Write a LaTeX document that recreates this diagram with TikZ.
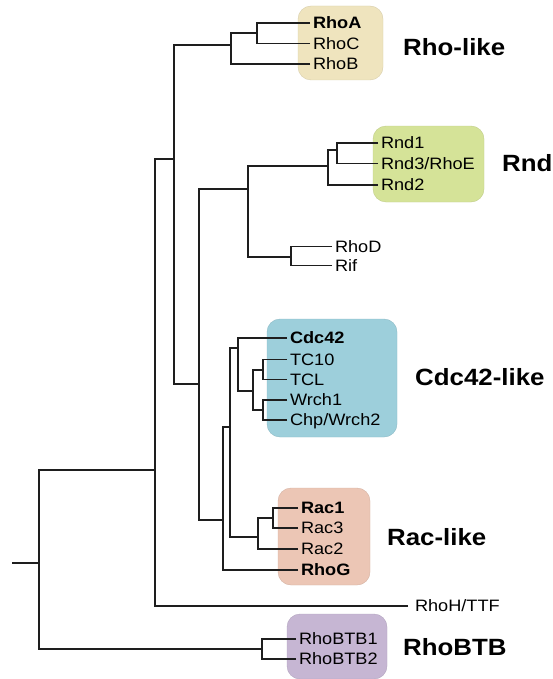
\documentclass[tikz,border=0pt]{standalone}
\usepackage{fontspec}
\setmainfont{Liberation Sans}[FakeStretch=1.1]
\usepackage{tikz}
\usetikzlibrary{positioning}
\definecolor{boxRho}{RGB}{239,228,190}
\definecolor{boxRnd}{RGB}{213,227,152}
\definecolor{boxCdc}{RGB}{157,207,219}
\definecolor{boxRac}{RGB}{236,198,181}
\definecolor{boxBTB}{RGB}{198,182,211}
\definecolor{branch}{RGB}{30,30,30}

\tikzset{
  leaf/.style={anchor=west, inner xsep=3bp, inner ysep=0pt, outer sep=0pt,
    text height=11.8bp, text depth=0pt, font=\fontsize{16.5bp}{20bp}\selectfont},
  grouplbl/.style={anchor=west, inner sep=0pt, text height=16.8bp, text depth=0pt,
    font=\fontsize{23.5bp}{28bp}\selectfont\bfseries},
  grpbox/.style={rounded corners=13bp, draw=#1!90!black, line width=0.4bp, fill=#1},
  branchln/.style={draw=branch, line width=1.7bp},
}

\begin{document}
\begin{tikzpicture}[x=1bp,y=-1bp]
  \useasboundingbox (0,0) rectangle (553,679);
  % coloured group boxes
  \foreach \c/\xa/\ya/\xb/\yb in {boxRho/298/6/383/80, boxRnd/373/126/484/202,
      boxCdc/267/319/397/437, boxRac/278/488/370/585, boxBTB/287/614/387/679} {
    \draw[grpbox=\c] (\xa,\ya) rectangle (\xb,\yb);
  }
  % group names
  \foreach \n/\t/\x/\y in {lblRho/Rho-like/403/47, lblRnd/Rnd/502/163,
      lblCdc/Cdc42-like/415/377, lblRac/Rac-like/387/537, lblBTB/RhoBTB/403/647}
    \node[grouplbl] (\n) at (\x,\y) {\t};
  % leaves: name/text/end of branch x/y
  \foreach \n/\t/\x/\y in {
      rhoA/\textbf{RhoA}/310/23, rhoC/RhoC/310/43.5, rhoB/RhoB/310/64,
      rnd1/Rnd1/378/143, rnd3/{Rnd3/RhoE}/378/163.5, rnd2/Rnd2/378/185,
      rhoD/RhoD/332/246.5, rif/Rif/332/265.5,
      cdc42/\textbf{Cdc42}/287/338, tc10/TC10/287/359.5, tcl/TCL/287/379.5,
      wrch1/Wrch1/287/400, chp/{Chp/Wrch2}/287/420,
      rac1/\textbf{Rac1}/298/508, rac3/Rac3/298/528, rac2/Rac2/298/549,
      rhoG/\textbf{RhoG}/298/570,
      btb1/RhoBTB1/296/639, btb2/RhoBTB2/296/659}
    \node[leaf] (\n) at (\x,\y) {\t};
  \node[leaf, inner xsep=7bp] (rhoH) at (408,606) {RhoH/TTF};
  % inner junctions
  \coordinate (jAC) at (257,33);
  \coordinate (jRho) at (231,45);
  \coordinate (jRndE) at (337,150);
  \coordinate (jRnd) at (328,166);
  \coordinate (jDRif) at (291,257);
  \coordinate (jRndD) at (248,189);
  \coordinate (jTC) at (263,370);
  \coordinate (jWrch) at (263,410);
  \coordinate (jTW) at (253,391);
  \coordinate (jCdc) at (238,348);
  \coordinate (jRac13) at (273,518);
  \coordinate (jRac) at (258,537);
  \coordinate (jCdcRac) at (230,427);
  \coordinate (jRacG) at (223,520);
  \coordinate (jMid) at (199,384);
  \coordinate (jCore) at (174,159);
  \coordinate (jH) at (155,470);
  \coordinate (jBTB) at (262,649);
  \coordinate (jRoot) at (39,563);
  \coordinate (rootStub) at (12,563);
  % branches
  \foreach \a/\b in {rhoA/jAC, rhoC/jAC, jAC/jRho, rhoB/jRho, jRho/jCore,
      rnd1/jRndE, rnd3/jRndE, jRndE/jRnd, rnd2/jRnd, jRnd/jRndD,
      rhoD/jDRif, rif/jDRif, jDRif/jRndD, jRndD/jMid,
      tc10/jTC, tcl/jTC, wrch1/jWrch, chp/jWrch, jTC/jTW, jWrch/jTW,
      cdc42/jCdc, jTW/jCdc, jCdc/jCdcRac,
      rac1/jRac13, rac3/jRac13, jRac13/jRac, rac2/jRac, jRac/jCdcRac,
      jCdcRac/jRacG, rhoG/jRacG, jRacG/jMid, jMid/jCore,
      jCore/jH, rhoH/jH, jH/jRoot, btb1/jBTB, btb2/jBTB, jBTB/jRoot}
    \draw[branchln] (\a) -| (\b);
  \draw[branchln] (rootStub) -- (jRoot);
\end{tikzpicture}
\end{document}
